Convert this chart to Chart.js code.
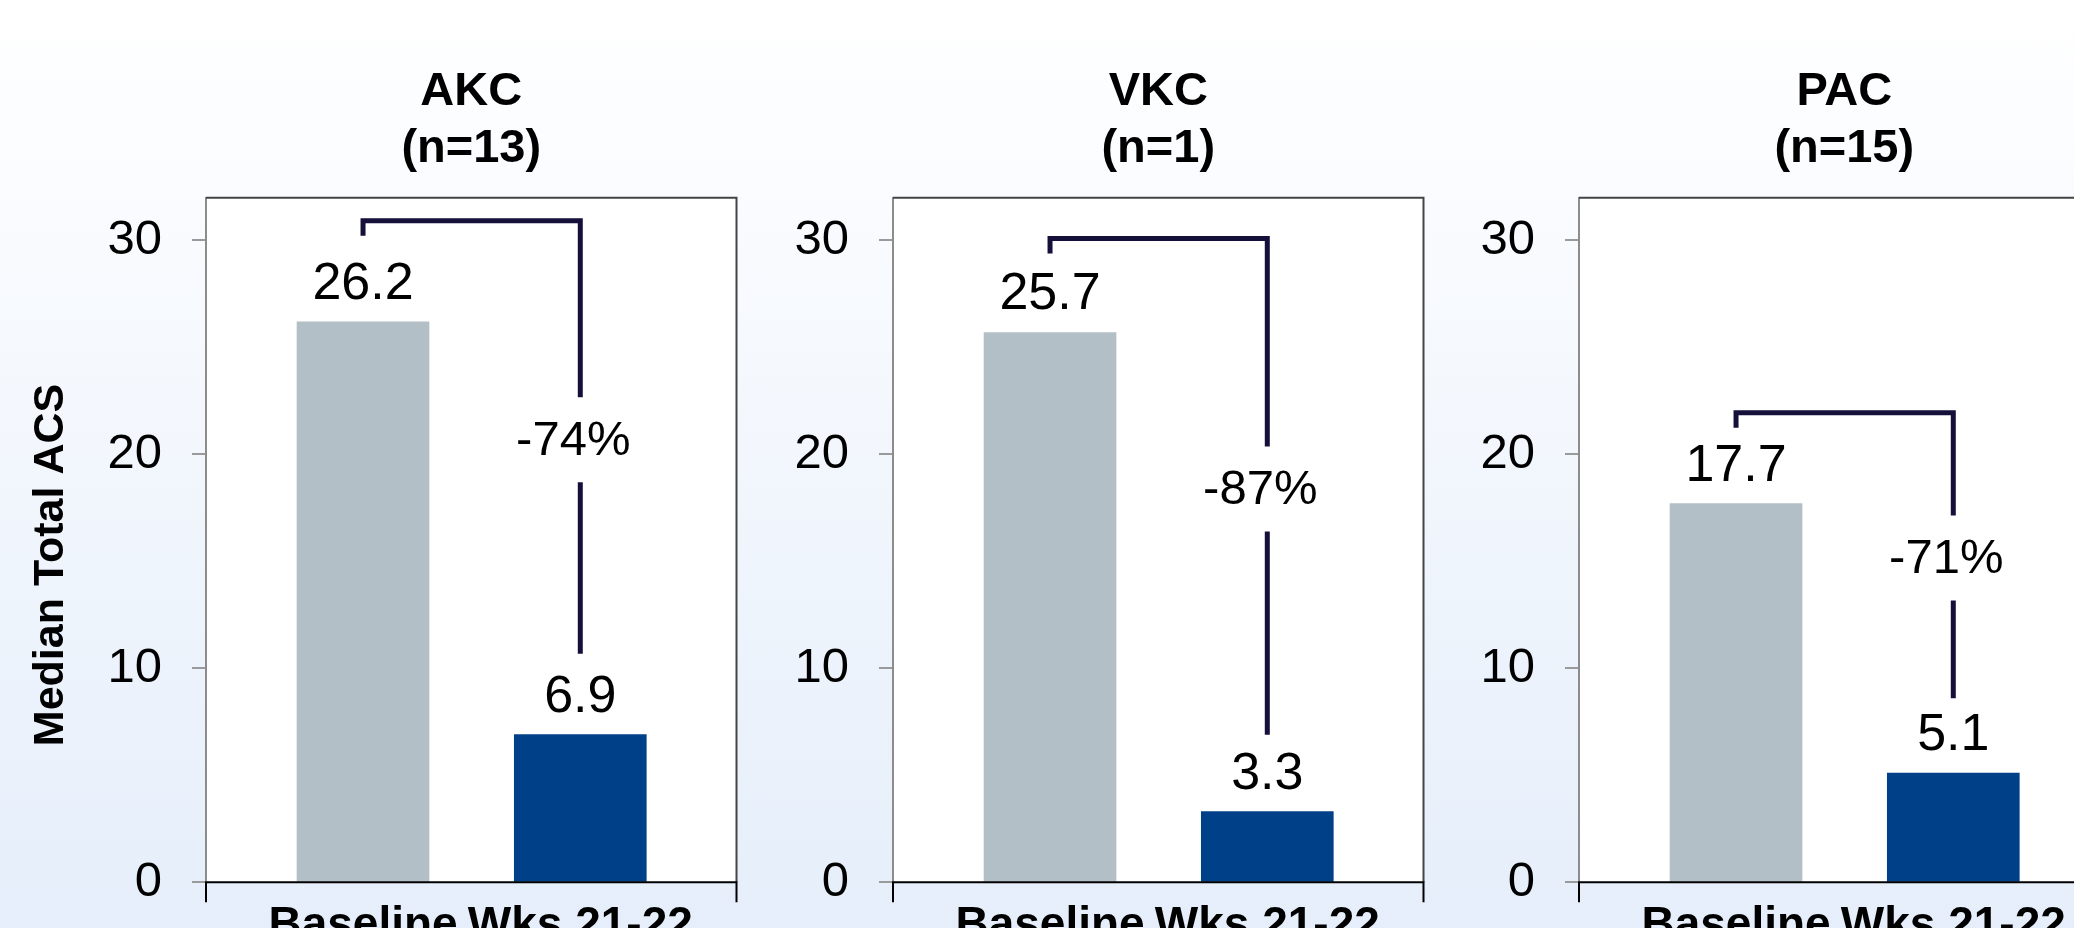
<!DOCTYPE html>
<html>
<head>
<meta charset="utf-8">
<script src="https://cdn.jsdelivr.net/npm/chart.js@4.4.1/dist/chart.umd.min.js"></script>
<style>
  html, body { margin: 0; padding: 0; width: 2074px; height: 928px; overflow: hidden; }
  body { position: relative; background: linear-gradient(to bottom, #ffffff 0%, #fcfdff 12%, #e5eefa 100%); }
  canvas { position: absolute; top: 0; }
</style>
</head>
<body>
<canvas id="panel0"></canvas>
<canvas id="panel1"></canvas>
<canvas id="panel2"></canvas>
<script>
// Median total ACS by conjunctivitis type, baseline vs weeks 21-22
const panelNames = ['AKC', 'VKC', 'PAC'];
const panelCounts = [13, 1, 15];
const timepoints = ['Baseline', 'Wks 21-22'];
const baselineMedians = [26.2, 25.7, 17.7];
const week2122Medians = [6.9, 3.3, 5.1];
const yTicks = [0, 10, 20, 30];
const yAxisTitle = 'Median Total ACS';

const FONT = "'Liberation Sans', Arial, Helvetica, sans-serif";
const GREY_BAR = '#b3bfc6';
const BLUE_BAR = '#004089';
const BRACKET = '#14103a';

// panel geometry (px)
const AXIS_W = 206;
const PLOT_W = 530.5;
const PANEL_STEP = 686.4;
const FIRST_PLOT_LEFT = 206.3;
const CANVAS_W = 750;
const CANVAS_H = 1000;
const PLOT_BOTTOM = 882.3;
// bracket clearance above the bars, per panel (px)
const BRACKET_LIFT = [101, 94, 91];
const BRACKET_DROP_GAP = [81, 77, 75];

// white plot box with dark top/right edges, black zero line and edge ticks below it
const plotFrame = {
  id: 'plotFrame',
  beforeDraw(chart) {
    const { ctx, chartArea: a } = chart;
    ctx.save();
    ctx.fillStyle = '#ffffff';
    ctx.fillRect(a.left, a.top, a.right - a.left, a.bottom - a.top);
    ctx.restore();
  },
  afterDatasetsDraw(chart) {
    const { ctx, chartArea: a } = chart;
    ctx.save();
    ctx.lineWidth = 2;
    ctx.strokeStyle = '#444444';
    ctx.beginPath();
    ctx.moveTo(a.left, a.top);
    ctx.lineTo(a.right, a.top);
    ctx.lineTo(a.right, a.bottom);
    ctx.stroke();
    ctx.strokeStyle = '#000000';
    ctx.beginPath();
    ctx.moveTo(a.left - 1, a.bottom);
    ctx.lineTo(a.right + 1, a.bottom);
    ctx.moveTo(a.left, a.bottom);
    ctx.lineTo(a.left, a.bottom + 20);
    ctx.moveTo(a.right, a.bottom);
    ctx.lineTo(a.right, a.bottom + 20);
    ctx.stroke();
    ctx.restore();
  }
};

// value printed above each bar
const valueLabels = {
  id: 'valueLabels',
  afterDatasetsDraw(chart) {
    const { ctx } = chart;
    const meta = chart.getDatasetMeta(0);
    const points = chart.data.datasets[0].data;
    ctx.save();
    ctx.font = '52px ' + FONT;
    ctx.fillStyle = '#000000';
    ctx.textAlign = 'center';
    ctx.textBaseline = 'alphabetic';
    meta.data.forEach((bar, k) => {
      ctx.fillText(points[k].y.toFixed(1), bar.x, bar.y - 23);
    });
    ctx.restore();
  }
};

// bracket from the baseline bar to the week 21-22 bar with the percent change
const changeBracket = {
  id: 'changeBracket',
  afterDatasetsDraw(chart, args, opts) {
    const { ctx } = chart;
    const [b0, b1] = chart.getDatasetMeta(0).data;
    const points = chart.data.datasets[0].data;
    const top = b0.y - opts.lift;
    const leftEnd = top + 15;
    const rightEnd = b1.y - opts.dropGap;
    const mid = (top + rightEnd) / 2;
    const pct = Math.round((points[1].y - points[0].y) / points[0].y * 100);
    ctx.save();
    ctx.strokeStyle = BRACKET;
    ctx.lineWidth = 5;
    ctx.lineJoin = 'miter';
    ctx.lineCap = 'butt';
    ctx.beginPath();
    ctx.moveTo(b0.x, leftEnd);
    ctx.lineTo(b0.x, top);
    ctx.lineTo(b1.x, top);
    ctx.lineTo(b1.x, mid - 40);
    ctx.moveTo(b1.x, mid + 45);
    ctx.lineTo(b1.x, rightEnd);
    ctx.stroke();
    ctx.font = '49px ' + FONT;
    ctx.fillStyle = '#000000';
    ctx.textAlign = 'center';
    ctx.textBaseline = 'alphabetic';
    ctx.fillText(pct + '%', b1.x - 7, mid + 17.5);
    ctx.restore();
  }
};

// rotated y-axis title on the first panel
const sideTitle = {
  id: 'sideTitle',
  afterDraw(chart, args, opts) {
    if (!opts || !opts.text) return;
    const { ctx, chartArea: a } = chart;
    ctx.save();
    ctx.translate(opts.x, (a.top + a.bottom) / 2 + opts.shift);
    ctx.rotate(-Math.PI / 2);
    ctx.font = 'bold 43px ' + FONT;
    ctx.fillStyle = '#000000';
    ctx.textAlign = 'center';
    ctx.textBaseline = 'alphabetic';
    ctx.fillText(opts.text, 0, 0);
    ctx.restore();
  }
};

function makePanel(i) {
  const canvas = document.getElementById('panel' + i);
  canvas.width = CANVAS_W;
  canvas.height = CANVAS_H;
  canvas.style.left = Math.round(FIRST_PLOT_LEFT + i * PANEL_STEP - AXIS_W) + 'px';

  const values = [baselineMedians[i], week2122Medians[i]];

  return new Chart(canvas, {
    type: 'bar',
    data: {
      datasets: [{
        data: timepoints.map((t, k) => ({ x: k, y: values[k] })),
        backgroundColor: [GREY_BAR, BLUE_BAR],
        borderWidth: 0,
        barThickness: 132
      }]
    },
    options: {
      responsive: false,
      animation: false,
      events: [],
      layout: { padding: { left: 0, right: CANVAS_W - AXIS_W - PLOT_W, top: 0, bottom: 0 } },
      plugins: {
        legend: { display: false },
        tooltip: { enabled: false },
        title: {
          display: true,
          text: [panelNames[i], '(n=' + panelCounts[i] + ')'],
          fullSize: false,
          color: '#000000',
          font: { family: FONT, size: 47, weight: 'bold', lineHeight: 1.2 },
          padding: { top: 64, bottom: 20.9 }
        },
        changeBracket: { lift: BRACKET_LIFT[i], dropGap: BRACKET_DROP_GAP[i] },
        sideTitle: i === 0 ? { text: yAxisTitle, x: 63, shift: 25 } : { text: '' }
      },
      scales: {
        x: {
          type: 'linear',
          min: -0.7228,
          max: 1.719,
          offset: false,
          afterBuildTicks: s => { s.ticks = timepoints.map((t, k) => ({ value: k })); },
          afterFit: s => { s.height = CANVAS_H - PLOT_BOTTOM; },
          grid: { display: false, drawTicks: false },
          border: { display: false },
          ticks: {
            autoSkip: false,
            maxRotation: 0,
            padding: 16,
            color: '#000000',
            font: { family: FONT, size: 46, weight: 'bold' },
            callback: v => (timepoints[v] !== undefined ? timepoints[v] : '')
          }
        },
        y: {
          min: 0,
          max: 32,
          afterBuildTicks: s => { s.ticks = yTicks.map(v => ({ value: v })); },
          afterFit: s => { s.width = AXIS_W; },
          grid: { display: true, drawOnChartArea: false, drawTicks: true, tickLength: 14, color: '#9a9a9a', lineWidth: 2 },
          border: { display: true, color: '#8c8c8c', width: 2 },
          ticks: {
            padding: 30,
            color: '#000000',
            font: { family: FONT, size: 49 },
            callback: v => String(v)
          }
        }
      }
    },
    plugins: [plotFrame, valueLabels, changeBracket, sideTitle]
  });
}

panelNames.forEach((name, i) => makePanel(i));
</script>
</body>
</html>
